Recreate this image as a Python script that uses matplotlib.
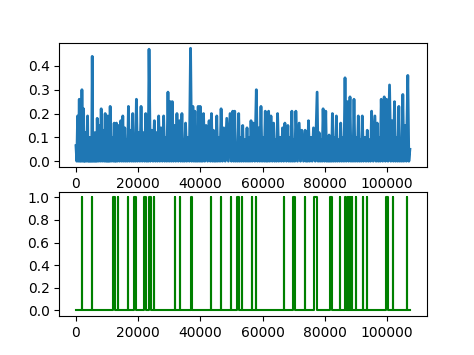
import matplotlib
matplotlib.use("Agg")
import matplotlib.pyplot as plt
import numpy as np

# top panel: spike positions (sample index) and spike heights
peak_x = [0, 534, 1067, 1494, 1921, 2455, 2780, 3095, 3736, 4100, 4483, 4850, 5230, 5650,
          6084, 6450, 6831, 7471, 8112, 8752, 9392, 9800, 10246, 10600, 10993, 11634, 12274,
          12650, 13021, 13661, 14409, 15049, 15690, 16280, 16864, 17611, 18251, 18840, 19425,
          20172, 20919, 21667, 22414, 22950, 23481, 24335, 25189, 25829, 26576, 27323, 28177,
          28870, 29565, 30312, 30952, 31699, 32446, 33300, 34047, 34630, 35221, 36020, 36822,
          37569, 38210, 38740, 39277, 39918, 40450, 40985, 41829, 42790, 43537, 44177, 44710,
          45245, 45940, 46632, 47486, 48447, 49514, 50368, 51009, 51650, 52289, 52900, 53579,
          54270, 54967, 55600, 56247, 56994, 57955, 58702, 59449, 60140, 60836, 61370, 61904,
          62651, 63505, 64140, 64785, 65580, 66386, 67134, 68094, 68730, 69375, 70000, 70656,
          71723, 72577, 73644, 74200, 74712, 75500, 76313, 77487, 78127, 78770, 79408, 80262,
          80800, 81329, 81860, 82396, 83040, 83677, 84370, 85065, 85750, 86452, 87199, 88053,
          88700, 89334, 90030, 90721, 91360, 92002, 92800, 93603, 94300, 94991, 96058, 96805,
          97450, 98086, 99047, 99794, 100755, 101609, 102356, 103050, 103743, 104380, 105024,
          105665, 106625, 107300]
peak_y = [0.065, 0.19, 0.26, 0.22, 0.30, 0.22, 0.08, 0.12, 0.19, 0.09, 0.10, 0.07, 0.44, 0.09,
          0.12, 0.08, 0.18, 0.15, 0.22, 0.13, 0.20, 0.09, 0.19, 0.08, 0.23, 0.10, 0.16,
          0.08, 0.16, 0.15, 0.17, 0.19, 0.14, 0.09, 0.23, 0.13, 0.20, 0.10, 0.26,
          0.12, 0.23, 0.12, 0.20, 0.09, 0.47, 0.13, 0.17, 0.12, 0.19, 0.14, 0.19,
          0.10, 0.29, 0.25, 0.25, 0.15, 0.20, 0.17, 0.20, 0.09, 0.16, 0.10, 0.474,
          0.23, 0.21, 0.09, 0.23, 0.23, 0.10, 0.20, 0.15, 0.17, 0.20, 0.13, 0.10,
          0.19, 0.10, 0.22, 0.14, 0.18, 0.20, 0.21, 0.21, 0.06, 0.20, 0.10, 0.15,
          0.09, 0.14, 0.10, 0.17, 0.16, 0.30, 0.14, 0.23, 0.10, 0.21, 0.09, 0.21,
          0.19, 0.16, 0.09, 0.20, 0.10, 0.14, 0.16, 0.15, 0.10, 0.21, 0.09, 0.21,
          0.16, 0.13, 0.13, 0.08, 0.17, 0.10, 0.14, 0.29, 0.12, 0.09, 0.22, 0.21,
          0.04, 0.11, 0.09, 0.20, 0.10, 0.19, 0.09, 0.16, 0.10, 0.35, 0.25, 0.27,
          0.10, 0.26, 0.10, 0.19, 0.09, 0.19, 0.10, 0.13, 0.09, 0.21, 0.19, 0.16,
          0.10, 0.26, 0.27, 0.26, 0.32, 0.17, 0.25, 0.10, 0.23, 0.09, 0.28,
          0.15, 0.36, 0.05]

# bottom panel: windows where the flag is 1 (start, end)
flag_start = [2030, 5230, 11860, 13560, 16880, 18700, 21900, 23600, 25220, 31730, 33440, 36860,
              43480, 46700, 49780, 51700, 53200, 56630, 58010, 66770, 69870, 73620, 76600,
              81630, 84710, 86440, 87270, 87590, 88040, 88680, 89960, 92210, 93490, 99780,
              101920, 106500]
flag_end = [2030, 5230, 12500, 13560, 16880, 19230, 22430, 24140, 25220, 31730, 33440, 37390,
            43480, 46700, 49780, 52340, 53200, 56630, 58010, 66770, 70510, 73620, 77340,
            82140, 84710, 86760, 87270, 87590, 88040, 88680, 89960, 92210, 93490, 100320,
            101920, 106500]
n_samples = 107300

# zig-zag between spikes so the line drops back to zero
top_x, top_y = [], []
for i, (x, y) in enumerate(zip(peak_x, peak_y)):
    if i > 0:
        top_x.append((peak_x[i - 1] + x) / 2)
        top_y.append(0.0)
    top_x.append(x)
    top_y.append(y)

bot_x, bot_y = [0], [0]
for s, e in zip(flag_start, flag_end):
    bot_x += [s, s, e, e]
    bot_y += [0, 1, 1, 0]
bot_x.append(n_samples)
bot_y.append(0)

fig, (ax1, ax2) = plt.subplots(2, 1, figsize=(4.74, 3.55), dpi=100)
ax1.plot(top_x, top_y, linewidth=2.0)
ax1.set_yticks([0.0, 0.1, 0.2, 0.3, 0.4])
ax2.plot(bot_x, bot_y, color="g")
ax2.set_yticks([0.0, 0.2, 0.4, 0.6, 0.8, 1.0])

fig.savefig("out.png", dpi=100)
